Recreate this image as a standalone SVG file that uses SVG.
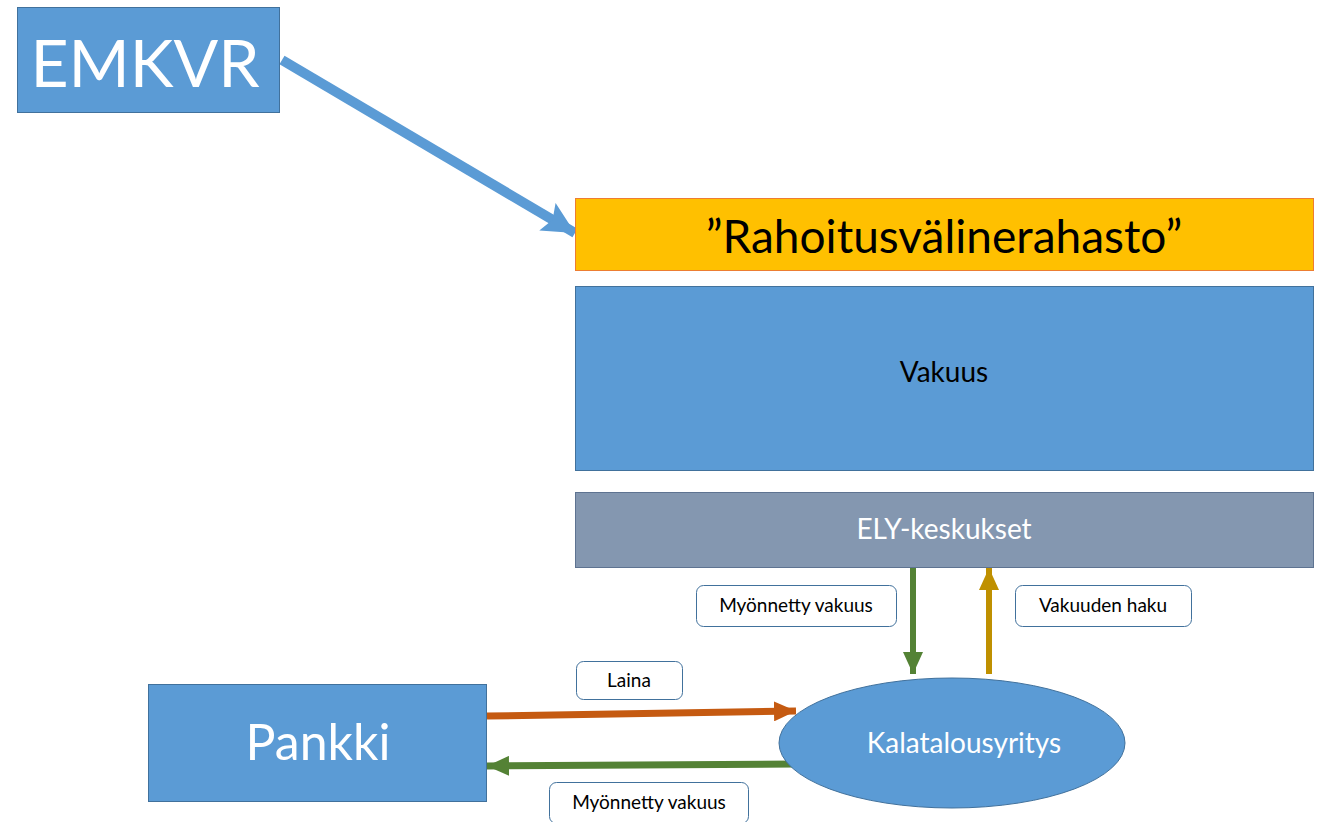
<svg xmlns="http://www.w3.org/2000/svg" width="1322" height="822" viewBox="0 0 1322 822">
<style>
text{font-family:Lato,"Open Sans","Liberation Sans",sans-serif;text-anchor:middle;dominant-baseline:central}
.lbl rect{fill:#fff;stroke:#41719C;stroke-width:1}
.lbl text{font-size:19px;fill:#000}
</style>
<defs>
<marker id="hb" markerUnits="userSpaceOnUse" markerWidth="34" markerHeight="32" refX="32" refY="16" orient="auto"><path d="M0,0 L32,16 L0,32 L6,16 Z" fill="#5B9BD5"/></marker>
<marker id="hg" markerUnits="userSpaceOnUse" markerWidth="24" markerHeight="20" refX="22" refY="10" orient="auto"><path d="M0,0 L22,10 L0,20 Z" fill="#548235"/></marker>
<marker id="hy" markerUnits="userSpaceOnUse" markerWidth="24" markerHeight="20" refX="22" refY="10" orient="auto"><path d="M0,0 L22,10 L0,20 Z" fill="#BF9000"/></marker>
<marker id="ho" markerUnits="userSpaceOnUse" markerWidth="24" markerHeight="20" refX="22" refY="10" orient="auto"><path d="M0,0 L22,10 L0,20 Z" fill="#C55A11"/></marker>
</defs>
<rect width="1322" height="822" fill="#fff"/>
<g id="connectors">
<line x1="282" y1="60" x2="575" y2="233" stroke="#5B9BD5" stroke-width="10" marker-end="url(#hb)"/>
<line x1="913" y1="567" x2="913" y2="674" stroke="#548235" stroke-width="6" marker-end="url(#hg)"/>
<line x1="989" y1="674" x2="989" y2="568" stroke="#BF9000" stroke-width="6" marker-end="url(#hy)"/>
<line x1="487" y1="716" x2="796" y2="711" stroke="#C55A11" stroke-width="7" marker-end="url(#ho)"/>
<line x1="796" y1="764" x2="487" y2="766" stroke="#548235" stroke-width="7" marker-end="url(#hg)"/>
</g>
<g id="emkvr">
<rect x="17.500" y="7.500" width="262" height="105" fill="#5B9BD5" stroke="#41719C"/>
<text x="145" y="61" font-size="66" fill="#fff">EMKVR</text>
</g>
<g id="rahasto">
<rect x="575.500" y="198.500" width="738" height="72" fill="#FFC000" stroke="#ED7D31"/>
<text x="944" y="235" font-size="46" fill="#000">”Rahoitusvälinerahasto”</text>
</g>
<g id="vakuus">
<rect x="575.500" y="286.500" width="738" height="184" fill="#5B9BD5" stroke="#41719C"/>
<text x="944" y="371" font-size="28" fill="#000">Vakuus</text>
</g>
<g id="ely">
<rect x="575.500" y="492.500" width="738" height="75" fill="#8497B0" stroke="#5E7391"/>
<text x="944" y="528" font-size="28" fill="#fff">ELY-keskukset</text>
</g>
<g id="pankki">
<rect x="148.500" y="684.500" width="338" height="117" fill="#5B9BD5" stroke="#41719C"/>
<text x="318" y="741" font-size="50" fill="#fff">Pankki</text>
</g>
<g id="kalatalousyritys">
<ellipse cx="952" cy="743" rx="173" ry="65" fill="#5B9BD5" stroke="#41719C"/>
<text x="964" y="742" font-size="28" fill="#fff">Kalatalousyritys</text>
</g>
<g id="lbl-myonnetty1" class="lbl">
<rect x="696.500" y="585.500" width="200" height="41" rx="7"/>
<text x="796" y="604">Myönnetty vakuus</text>
</g>
<g id="lbl-haku" class="lbl">
<rect x="1015.500" y="585.500" width="176" height="41" rx="7"/>
<text x="1103" y="604">Vakuuden haku</text>
</g>
<g id="lbl-laina" class="lbl">
<rect x="576.500" y="661.500" width="106" height="38" rx="7"/>
<text x="629" y="679">Laina</text>
</g>
<g id="lbl-myonnetty2" class="lbl">
<rect x="549.500" y="782.500" width="199" height="41" rx="7"/>
<text x="649" y="801">Myönnetty vakuus</text>
</g>
</svg>
